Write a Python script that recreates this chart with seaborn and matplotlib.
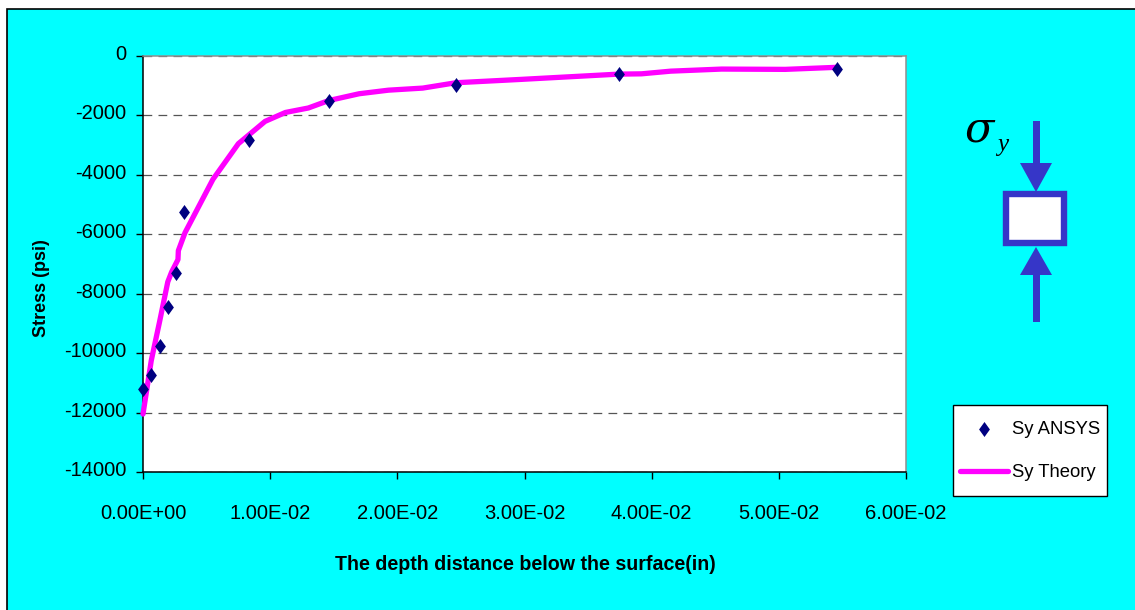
import matplotlib
matplotlib.use("Agg")
import matplotlib.pyplot as plt
import matplotlib.patches as mp
from matplotlib.markers import MarkerStyle
from matplotlib.path import Path
from matplotlib.transforms import ScaledTranslation
import pandas as pd
import seaborn as sns

ansys_depth = [0.0, 6.3e-4, 1.34e-3, 1.97e-3, 2.6e-3, 3.2e-3, 8.3e-3, 1.46e-2, 2.46e-2, 3.74e-2, 5.46e-2]
ansys_stress = [-11200, -10730, -9760, -8450, -7300, -5250, -2830, -1510, -980, -600, -440]
theory_depth = [0.0, 6.5e-4, 1.3e-3, 1.95e-3, 2.25e-3, 2.75e-3, 2.78e-3, 3.3e-3, 5.5e-3, 7.5e-3,
                9.6e-3, 1.12e-2, 1.3e-2, 1.46e-2, 1.7e-2, 1.93e-2, 2.2e-2, 2.46e-2, 2.96e-2, 3.74e-2,
                3.92e-2, 4.15e-2, 4.55e-2, 5.05e-2, 5.46e-2]
theory_stress = [-12050, -10250, -8950, -7600, -7270, -6850, -6550, -5950, -4150, -2950,
                 -2200, -1900, -1750, -1500, -1270, -1150, -1080, -900, -790, -610,
                 -600, -510, -440, -450, -380]
x_ticks = [0.0, 0.01, 0.02, 0.03, 0.04, 0.05, 0.06]
x_labels = ["0.00E+00", "1.00E-02", "2.00E-02", "3.00E-02", "4.00E-02", "5.00E-02", "6.00E-02"]
y_ticks = [0, -2000, -4000, -6000, -8000, -10000, -12000, -14000]

W, H = 1135, 610
CYAN = "#00FFFF"
BLUE = "#3636C8"
sns.set_style("white")
plt.rcParams["font.family"] = ["Liberation Sans", "DejaVu Sans"]
plt.rcParams["axes.unicode_minus"] = False
FS = 14.5

fig = plt.figure(figsize=(W / 100, H / 100), dpi=100, facecolor="white")


def fx(p):
    return p / W


def fy(p):
    return 1 - p / H


tr = fig.transFigure
fig.add_artist(mp.Rectangle((fx(7), fy(620)), 1140 / W, 611 / H, transform=tr,
                            facecolor=CYAN, edgecolor="black", linewidth=1.2, zorder=-5))

ax = fig.add_axes([fx(143), fy(472), 763 / W, 416 / H], facecolor="white", zorder=2)
theory = pd.DataFrame({"depth": theory_depth, "stress": theory_stress})
ansys = pd.DataFrame({"depth": ansys_depth, "stress": ansys_stress})
diamond = MarkerStyle(Path([(0, -1), (0.72, 0), (0, 1), (-0.72, 0), (0, -1)], closed=True))
sns.lineplot(data=theory, x="depth", y="stress", ax=ax, color="#FF00FF", linewidth=3.8, sort=False,
             solid_capstyle="round", solid_joinstyle="round", label="Sy Theory", zorder=3, clip_on=False)
sns.scatterplot(data=ansys, x="depth", y="stress", ax=ax, marker=diamond, color="#000080", s=117, linewidth=0,
                label="Sy ANSYS", zorder=4, clip_on=False)

ax.set_xlim(0, 0.06)
ax.set_ylim(-14000, 0)
ax.set_xticks(x_ticks, x_labels)
ax.set_yticks(y_ticks)
ax.grid(axis="y", color="#555555", linestyle=(0, (7, 5)), linewidth=0.9)
ax.set_axisbelow(True)
for side in ("left", "bottom"):
    ax.spines[side].set_color("black")
    ax.spines[side].set_linewidth(1.1)
for side in ("top", "right"):
    ax.spines[side].set_color("#909090")
    ax.spines[side].set_linewidth(1.1)
ax.tick_params(axis="both", direction="out", length=4.7, width=1, color="black", labelsize=FS, left=True, bottom=True, labelcolor="black")
ax.tick_params(axis="y", pad=7.3)
ax.tick_params(axis="x", pad=18)
lift = ScaledTranslation(0, 3.5 / 100, fig.dpi_scale_trans)
for lab in ax.get_yticklabels():
    lab.set_transform(lab.get_transform() + lift)
ax.set_xlabel("The depth distance below the surface(in)", fontsize=14.1, fontweight="bold", color="black")
ax.xaxis.set_label_coords((525.5 - 143) / 763, (472 - 564) / 416, transform=ax.transAxes)
ax.xaxis.label.set_verticalalignment("center")
ax.set_ylabel("Stress (psi)", fontsize=13, fontweight="bold", color="black")
ax.yaxis.set_label_coords((42 - 143) / 763, (472 - 288) / 416, transform=ax.transAxes)
ax.yaxis.label.set_verticalalignment("center")

h, l = ax.get_legend_handles_labels()
order = [l.index("Sy ANSYS"), l.index("Sy Theory")]
ax.get_legend().remove()
fig.add_artist(mp.Rectangle((fx(953), fy(496)), 154 / W, 91 / H, transform=tr, facecolor="white", edgecolor="black", linewidth=1))
leg = fig.legend([h[i] for i in order], [l[i] for i in order], loc="center left",
                 bbox_to_anchor=(fx(953), fy(451)), bbox_transform=tr,
                 frameon=False, fontsize=13.3, labelspacing=1.45, handlelength=2.6, handletextpad=0.22,
                 borderpad=0.38, borderaxespad=0, labelcolor="black")
leg.set_zorder(5)

# stress element diagram
fig.add_artist(mp.Rectangle((fx(1006), fy(243.5)), 57.5 / W, 49.5 / H, transform=tr, facecolor="white", edgecolor=BLUE, linewidth=4.6))
for y0, y1, tip, base in [(121, 165, 192, 163), (322, 275, 247, 275)]:
    fig.add_artist(mp.Rectangle((fx(1033), fy(max(y0, y1))), 6.5 / W, abs(y1 - y0) / H, transform=tr, facecolor=BLUE, edgecolor="none"))
    fig.add_artist(mp.Polygon([(fx(1020), fy(base)), (fx(1052), fy(base)), (fx(1036), fy(tip))], closed=True, transform=tr, facecolor=BLUE, edgecolor="none"))
fig.text(fx(965), fy(142), "σ", fontsize=31, family=["DejaVu Serif"], style="italic", color="black")
fig.text(fx(997), fy(151), "y", fontsize=18, family=["Liberation Serif", "DejaVu Serif"], style="italic", color="black")

fig.savefig("out.png", dpi=100)
